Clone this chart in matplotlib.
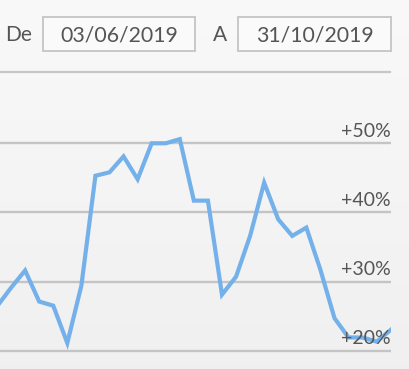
import numpy as np
import matplotlib.pyplot as plt
from matplotlib.patches import Rectangle
from matplotlib.lines import Line2D

plt.rcParams['font.family'] = ['Lato', 'DejaVu Sans']

# performance (%) over the selected period
perf = [26.4, 29.1, 31.6, 27.1, 26.5, 21.1, 29.4, 45.3, 45.8, 48.1, 44.8,
        50.0, 50.0, 50.6, 41.7, 41.7, 28.1, 30.7, 36.6, 44.3, 39.0, 36.6,
        37.8, 31.7, 24.7, 21.9, 21.9, 21.3, 23.0]
grid_levels = [20, 30, 40, 50]
grid_labels = ['+20%', '+30%', '+40%', '+50%']
date_from = '03/06/2019'
date_to = '31/10/2019'

W, H = 409, 369
fig = plt.figure(figsize=(W / 100, H / 100), dpi=100)

def fx(px):
    return px / W

def fy(py):
    return 1 - py / H

# background gradient
bg = fig.add_axes([0, 0, 1, 1])
grad = np.linspace(0, 1, 256).reshape(-1, 1)
top = np.array([0.976, 0.976, 0.976])
bot = np.array([0.937, 0.941, 0.937])
img = top + (bot - top) * grad[:, :, None]
bg.imshow(img, aspect='auto', extent=[0, 1, 0, 1])
bg.set_axis_off()

# header: date fields
txt_col = '#555555'
fig.text(fx(5), fy(35), 'De', fontsize=15, color=txt_col, va='center', ha='left')
fig.text(fx(213), fy(35), 'A', fontsize=15, color=txt_col, va='center', ha='left')
for x0, x1, label in [(43, 195, date_from), (238, 391, date_to)]:
    fig.patches.append(Rectangle((fx(x0), fy(51)), fx(x1 - x0), (51 - 17) / H,
                                 transform=fig.transFigure, facecolor='#fafafa',
                                 edgecolor='#c8c8c8', linewidth=1.4))
    fig.text(fx((x0 + x1) / 2), fy(35), label, fontsize=15.3, color=txt_col,
             va='center', ha='center')
fig.lines.append(Line2D([0, fx(390)], [fy(72), fy(72)], transform=fig.transFigure,
                        color='#c6c6c6', linewidth=1.6))

# chart
ax = fig.add_axes([0, 0, fx(391), fy(75)])
ax.patch.set_alpha(0)
x = np.arange(len(perf))
for lv in grid_levels:
    ax.axhline(lv, color='#c4c4c4', linewidth=1.7, zorder=1)
ax.plot(x, perf, color='#74b1ea', linewidth=3, solid_joinstyle='miter', zorder=2)
for lv, lab in zip(grid_levels, grid_labels):
    ax.text(1.0, lv + 0.5, lab, transform=ax.get_yaxis_transform(),
            ha='right', va='bottom', fontsize=14, color=txt_col, zorder=3)
ax.set_xlim(0.213, 28.02)
ax.set_ylim(17.34, 59.88)
ax.set_axis_off()

fig.savefig('out.png', dpi=100)
